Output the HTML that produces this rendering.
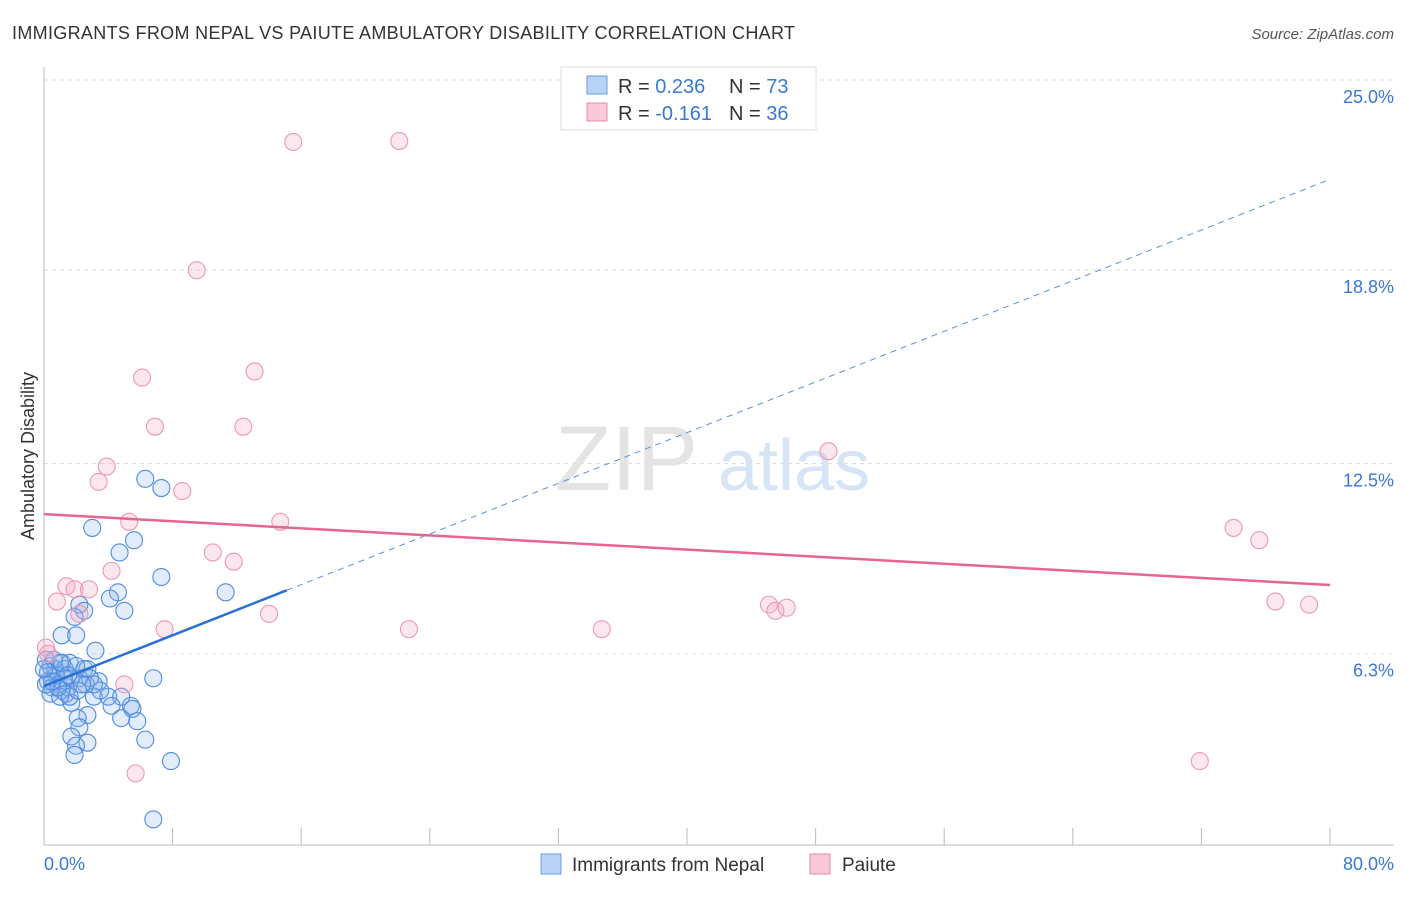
<!DOCTYPE html>
<html><head><meta charset="utf-8"><style>
body{margin:0;background:#fff;font-family:"Liberation Sans",sans-serif}
svg text{font-family:"Liberation Sans",sans-serif}
</style></head><body>
<svg id="c" width="1406" height="892" xmlns="http://www.w3.org/2000/svg">
<text x="12" y="39" font-size="18" fill="#333" textLength="783">IMMIGRANTS FROM NEPAL VS PAIUTE AMBULATORY DISABILITY CORRELATION CHART</text>
<text x="1394" y="39" font-size="15" fill="#555" font-style="italic" text-anchor="end">Source: ZipAtlas.com</text>
<g><text x="555" y="490" font-size="92" fill="#e4e4e4" font-family="Liberation Serif" >ZIP</text><text x="718" y="490" font-size="72" fill="#d6e4f5">atlas</text></g>
<g id="grid"></g><g id="axes"></g><g id="marks"></g>
<text transform="translate(34,456) rotate(-90)" font-size="18" fill="#333" text-anchor="middle">Ambulatory Disability</text>
<text x="44" y="870" font-size="18" fill="#3a78d4">0.0%</text>
<text x="1394" y="870" font-size="18" fill="#3a78d4" text-anchor="end">80.0%</text>
<g>
<rect x="561" y="67" width="255" height="63" fill="#fff" stroke="#ddd"/>
<rect x="587" y="76" width="20" height="18" fill="#b8d3f5" stroke="#6a9de0"/>
<rect x="587" y="103" width="20" height="18" fill="#f9c9d8" stroke="#e88aa8"/>
<text x="618" y="93" font-size="20" fill="#333">R = <tspan fill="#3a78d4">0.236</tspan></text>
<text x="729" y="93" font-size="20" fill="#333">N = <tspan fill="#3a78d4">73</tspan></text>
<text x="618" y="120" font-size="20" fill="#333">R = <tspan fill="#3a78d4">-0.161</tspan></text>
<text x="729" y="120" font-size="20" fill="#333">N = <tspan fill="#3a78d4">36</tspan></text>
</g>
<g>
<rect x="541" y="854" width="20" height="20" fill="#b8d3f5" stroke="#6a9de0"/>
<text x="572" y="871" font-size="19" fill="#333">Immigrants from Nepal</text>
<rect x="810" y="854" width="20" height="20" fill="#f9c9d8" stroke="#e88aa8"/>
<text x="842" y="871" font-size="19" fill="#333">Paiute</text>
</g>
</svg>
<script>
const yTicks=[6.3,12.5,18.8,25.0];
const yTickLabels=["6.3%","12.5%","18.8%","25.0%"];
const xTicks=[0,8,16,24,32,40,48,56,64,72,80];
const nepalX=[6.3,7.3,3.0,4.7,5.6,7.3,11.3,4.6,4.1,2.2,2.5,5.0,1.9,1.1,2.0,3.2,6.8,3.4,3.1,4.0,4.8,4.2,5.4,5.5,1.7,2.7,2.1,4.8,5.8,2.2,1.7,6.3,2.7,1.99,1.9,7.9,6.8,
0.4,0.7,1.0,1.3,1.6,0.25,0.5,0.9,1.1,1.5,1.7,2.2,2.5,2.7,0.75,0.12,1.25,0.4,1.37,1.0,2.0,2.86,0.62,1.6,2.6,0.25,0.87,2.1,1.12,0.5,1.5,0,3.5,3.1,2.36,0.12];
const nepalY=[12.0,11.7,10.4,9.6,10.0,8.8,8.3,8.3,8.1,7.9,7.7,7.7,7.5,6.9,6.9,6.4,5.5,5.4,4.9,4.9,4.9,4.6,4.6,4.5,4.7,4.3,4.2,4.2,4.1,3.9,3.6,3.5,3.4,3.3,3.0,2.8,0.9,
5.9,5.8,6.0,5.8,6.0,5.4,5.2,5.3,5.1,5.2,5.5,5.5,5.8,5.8,5.6,6.1,5.5,5.0,5.0,4.9,5.9,5.5,6.1,4.9,5.3,5.7,5.2,5.1,6.0,5.4,5.6,5.8,5.1,5.3,5.3,5.3];
const paiuteX=[15.5,22.1,9.5,6.1,13.1,6.9,12.4,3.9,3.4,8.6,5.3,14.7,10.5,11.8,4.2,1.4,1.9,2.8,0.8,7.5,14.0,22.7,34.7,48.8,45.1,45.5,46.2,74.0,75.6,76.6,78.7,71.9,5.7,5.0,2.2,0.12,0.25];
const paiuteY=[22.98,23.01,18.8,15.3,15.5,13.7,13.7,12.4,11.9,11.6,10.6,10.6,9.6,9.3,9.0,8.5,8.4,8.4,8.0,7.1,7.6,7.1,7.1,12.9,7.9,7.7,7.8,10.4,10.0,8.0,7.9,2.8,2.4,5.3,7.6,6.5,6.3];
const nepalTrend=[5.25,0.2064];
const paiuteTrend=[10.85,-0.0289];
const NS='http://www.w3.org/2000/svg';
const X=v=>44+v*16.075, Y=v=>847-v*30.68;
function mk(t,a,p){const e=document.createElementNS(NS,t);for(const k in a)e.setAttribute(k,a[k]);p.appendChild(e);return e;}
const grid=document.getElementById('grid'),axes=document.getElementById('axes'),marks=document.getElementById('marks');
yTicks.forEach((t,i)=>{
 const l=mk('line',{x1:44,x2:1394,y1:Y(t),y2:Y(t),stroke:'#ddd','stroke-dasharray':'4,4'},grid);
 
 
 const tx=mk('text',{x:1394,y:Y(t)+23,'font-size':18,fill:'#3a78d4','text-anchor':'end'},grid);
 tx.textContent=yTickLabels[i];
 
 
});
const ax=mk('line',{x1:44,x2:44,y1:67,y2:845,stroke:'#bbb'},axes);


const bx=mk('line',{x1:44,x2:1394,y1:845,y2:845,stroke:'#bbb'},axes);


xTicks.forEach(t=>{const l=mk('line',{x1:X(t),x2:X(t),y1:828,y2:845,stroke:'#bbb'},axes);
 
 });
nepalX.forEach((v,i)=>{const c=mk('circle',{cx:X(v),cy:Y(nepalY[i]),r:8.5,fill:'rgba(140,180,235,0.25)',stroke:'#4f8be0','stroke-width':1.1},marks);
 
 });
paiuteX.forEach((v,i)=>{const c=mk('circle',{cx:X(v),cy:Y(paiuteY[i]),r:8.5,fill:'rgba(245,170,195,0.28)',stroke:'#ec99b4','stroke-width':1.1},marks);
 
 });
const f=(tr,x)=>tr[0]+tr[1]*x;
let l1=mk('line',{x1:X(0),y1:Y(f(nepalTrend,0)),x2:X(15.1),y2:Y(f(nepalTrend,15.1)),stroke:'#2a6fd6','stroke-width':2.5},marks);


let l2=mk('line',{x1:X(15.1),y1:Y(f(nepalTrend,15.1)),x2:X(80),y2:Y(f(nepalTrend,80)),stroke:'#5a90dd','stroke-width':1,'stroke-dasharray':'6,5'},marks);


let l3=mk('line',{x1:X(0),y1:Y(f(paiuteTrend,0)),x2:X(80),y2:Y(f(paiuteTrend,80)),stroke:'#e66690','stroke-width':2.5},marks);


</script>
</body></html>
